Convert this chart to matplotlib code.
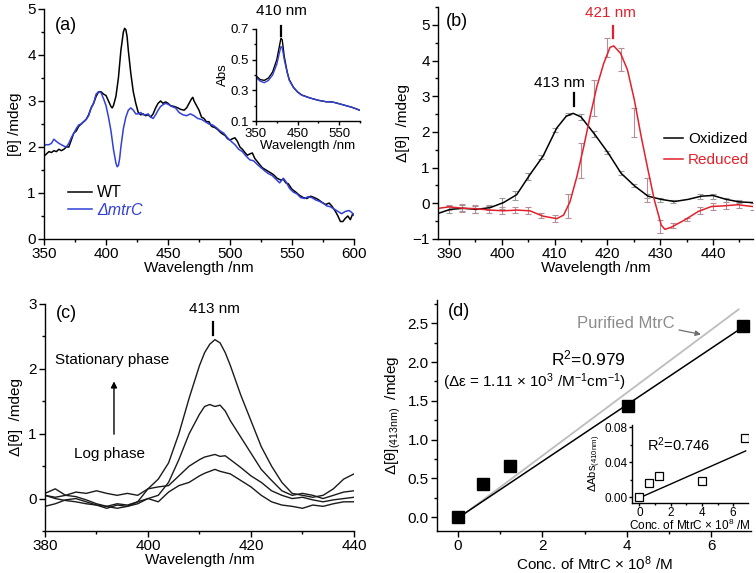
import matplotlib

matplotlib.use("Agg")
import matplotlib.pyplot as plt
from matplotlib.ticker import MultipleLocator, FormatStrFormatter

plt.rcParams["font.family"] = ["Liberation Sans", "DejaVu Sans"]
plt.rcParams["mathtext.fontset"] = "custom"
plt.rcParams["mathtext.rm"] = "Liberation Sans"
plt.rcParams["mathtext.it"] = "Liberation Sans:italic"
plt.rcParams["mathtext.default"] = "regular"
plt.rcParams["font.size"] = 11

BLUE = "#3340d8"
RED = "#e3202b"

# ---- (a) CD spectra of whole cells ----
wt_x = [350, 352, 354, 356, 358, 360, 362, 364, 366, 368, 370, 372, 374, 376, 378, 380, 382, 384, 386, 388,
        390, 392, 394, 396, 398, 400, 402, 404, 405, 406, 408, 410, 412, 414, 415, 416, 417, 418, 420, 422,
        424, 426, 428, 430, 432, 434, 436, 438, 440, 442, 444, 446, 448, 450, 452, 455, 458, 460, 463, 465,
        467, 469, 470, 471, 473, 475, 477, 479, 481, 483, 485, 488, 490, 493, 496, 498, 500, 502, 504, 506,
        508, 510, 512, 514, 516, 518, 520, 523, 526, 529, 532, 535, 538, 541, 543, 545, 547, 550, 553, 556,
        559, 562, 565, 568, 571, 574, 577, 580, 582, 585, 587, 589, 591, 593, 595, 597, 599, 600]
wt_y = [1.80, 1.85, 1.90, 1.88, 1.92, 1.90, 1.95, 1.92, 1.95, 2.00, 2.00, 2.15, 2.30, 2.35, 2.45, 2.50, 2.55,
        2.60, 2.70, 2.85, 2.95, 3.10, 3.20, 3.20, 3.15, 3.12, 3.00, 2.88, 2.85, 2.90, 3.10, 3.50, 4.10, 4.50,
        4.58, 4.55, 4.40, 4.10, 3.60, 3.20, 2.95, 2.75, 2.70, 2.72, 2.68, 2.70, 2.65, 2.72, 2.85, 2.95, 3.00,
        2.95, 2.98, 2.95, 2.90, 2.88, 2.85, 2.82, 2.80, 2.85, 2.95, 3.05, 3.08, 3.00, 2.90, 2.80, 2.65, 2.62,
        2.55, 2.55, 2.45, 2.42, 2.38, 2.30, 2.25, 2.18, 2.15, 2.18, 2.20, 2.12, 2.00, 1.95, 1.88, 1.82, 1.85,
        1.87, 1.75, 1.65, 1.55, 1.50, 1.45, 1.40, 1.32, 1.28, 1.30, 1.22, 1.20, 1.08, 1.02, 0.95, 0.90, 0.88,
        0.93, 0.90, 0.86, 0.80, 0.75, 0.78, 0.72, 0.60, 0.50, 0.38, 0.38, 0.45, 0.50, 0.42, 0.55, 0.52]
mtr_x = [350, 352, 354, 356, 358, 360, 362, 364, 366, 368, 370, 372, 374, 376, 378, 380, 382, 384, 386, 388,
         390, 392, 394, 396, 398, 400, 402, 404, 406, 408, 409, 410, 411, 412, 414, 416, 418, 420, 422, 424,
         426, 428, 430, 432, 434, 436, 438, 440, 442, 444, 446, 448, 450, 453, 456, 459, 462, 465, 468, 471,
         474, 477, 480, 483, 486, 489, 492, 495, 498, 501, 504, 507, 510, 513, 516, 519, 522, 525, 528, 531,
         534, 537, 540, 543, 545, 548, 551, 554, 557, 560, 563, 566, 569, 572, 575, 578, 581, 584, 587, 590,
         593, 596, 598, 600]
mtr_y = [2.03, 2.05, 2.05, 2.08, 2.17, 2.12, 2.08, 2.05, 2.02, 2.00, 2.08, 2.20, 2.30, 2.40, 2.48, 2.50, 2.55,
         2.60, 2.68, 2.85, 2.95, 3.15, 3.20, 3.18, 3.05, 2.90, 2.65, 2.35, 1.95, 1.65, 1.57, 1.60, 1.75, 2.00,
         2.40, 2.65, 2.80, 2.85, 2.80, 2.72, 2.72, 2.75, 2.70, 2.70, 2.72, 2.65, 2.62, 2.70, 2.80, 2.88, 2.92,
         2.95, 2.93, 2.88, 2.85, 2.75, 2.70, 2.68, 2.72, 2.68, 2.62, 2.60, 2.55, 2.50, 2.48, 2.42, 2.35, 2.30,
         2.20, 2.12, 2.05, 1.95, 1.90, 1.80, 1.72, 1.70, 1.62, 1.55, 1.48, 1.42, 1.38, 1.30, 1.22, 1.32, 1.25,
         1.10, 1.02, 0.98, 0.90, 0.88, 0.92, 0.90, 0.85, 0.82, 0.78, 0.72, 0.70, 0.65, 0.60, 0.55, 0.60, 0.62,
         0.58, 0.52]

# inset (a): absorbance
abs_x = [350, 360, 370, 380, 390, 400, 405, 410, 413, 418, 425, 430, 440, 450, 460, 480, 500, 520, 530, 540,
         560, 580, 600]
abs_wt = [0.395, 0.37, 0.365, 0.38, 0.42, 0.50, 0.57, 0.64, 0.63, 0.52, 0.42, 0.37, 0.32, 0.29, 0.27, 0.25,
          0.235, 0.225, 0.225, 0.22, 0.205, 0.19, 0.17]
abs_mtr = [0.385, 0.36, 0.35, 0.365, 0.40, 0.47, 0.53, 0.585, 0.58, 0.50, 0.415, 0.365, 0.318, 0.288, 0.268,
           0.25, 0.235, 0.225, 0.225, 0.22, 0.205, 0.19, 0.17]

# ---- (b) purified MtrC, oxidized vs reduced ----
ox_x = [388, 390.2, 392.7, 395.2, 397.8, 400.3, 402.8, 405.3, 407.8, 410.4, 412.2, 413.5, 415.0, 417.6, 420.1,
        422.6, 425.2, 427.7, 430.2, 432.7, 435.3, 437.8, 440.0, 442.5, 445.0, 447.5]
ox_y = [-0.28, -0.17, -0.14, -0.17, -0.12, 0.02, 0.24, 0.80, 1.32, 2.11, 2.44, 2.52, 2.42, 1.93, 1.42, 0.84,
        0.48, 0.20, 0.11, 0.05, 0.11, 0.20, 0.22, 0.11, 0.04, 0.02]
red_x = [388, 390, 392.7, 395, 397.8, 400.3, 402.8, 405.3, 407.8, 410.4, 411.7, 412.9, 414.2, 415.5, 416.7,
         418.0, 419.3, 420.5, 421.2, 422.5, 423.8, 425.1, 426.4, 427.7, 428.9, 430.2, 430.9, 432.1, 434.6,
         437.2, 439.7, 442.2, 444.7, 447.5]
red_y = [-0.14, -0.10, -0.14, -0.15, -0.19, -0.21, -0.19, -0.21, -0.36, -0.43, -0.33, 0.04, 0.74, 1.58, 2.42,
         3.27, 3.92, 4.37, 4.41, 4.20, 3.74, 2.90, 1.87, 0.93, 0.09, -0.61, -0.73, -0.67, -0.47, -0.23, -0.09,
         -0.07, -0.04, -0.09]
ox_err_x = [390, 392.5, 395, 397.5, 400, 402.5, 405, 407.5, 410, 412.5, 415, 417.5, 420, 422.5, 425, 427.5,
            430, 432.5, 437.5, 440, 442.5, 445]
ox_err_y = [-0.17, -0.14, -0.17, -0.12, 0.0, 0.22, 0.75, 1.30, 2.05, 2.50, 2.42, 1.95, 1.42, 0.85, 0.50, 0.20,
            0.10, 0.05, 0.18, 0.20, 0.10, 0.05]
ox_err = [0.10, 0.08, 0.10, 0.08, 0.15, 0.12, 0.10, 0.05, 0.05, 0.04, 0.08, 0.08, 0.05, 0.05, 0.05, 0.05,
          0.06, 0.05, 0.07, 0.07, 0.05, 0.05]
red_err_x = [390, 392.5, 395, 397.5, 400, 402.5, 405, 407.5, 410, 412.5, 415, 417.5, 420, 422.5, 425, 427.5,
             430, 432.5, 435, 437.5, 440, 442.5, 445, 447.5]
red_err_y = [-0.12, -0.13, -0.16, -0.18, -0.20, -0.18, -0.20, -0.35, -0.43, -0.08, 1.20, 2.95, 4.37, 4.02,
             2.27, 0.38, -0.65, -0.62, -0.45, -0.20, -0.08, -0.07, -0.04, -0.10]
red_err = [0.08, 0.10, 0.12, 0.10, 0.10, 0.08, 0.10, 0.07, 0.10, 0.33, 0.50, 0.50, 0.26, 0.32, 0.40, 0.33,
           0.18, 0.07, 0.05, 0.10, 0.10, 0.10, 0.08, 0.10]

# ---- (c) growth phase series ----
c_x = [380, 382, 384, 386, 388, 390, 392, 394, 396, 398, 400, 402, 404, 406, 408, 410, 411, 412, 413, 414,
       415, 416, 418, 420, 422, 424, 426, 428, 430, 432, 434, 436, 438, 440]
c_stat = [0.05, 0.02, 0.05, 0.03, -0.02, -0.08, -0.12, -0.08, -0.10, -0.05, 0.15, 0.30, 0.55, 1.00, 1.55,
          2.05, 2.25, 2.38, 2.45, 2.40, 2.25, 2.05, 1.60, 1.20, 0.80, 0.50, 0.25, 0.08, 0.05, 0.02, 0.05, 0.15,
          0.30, 0.38]
c_mid1 = [-0.12, -0.08, -0.02, 0.00, -0.05, -0.10, -0.15, -0.10, -0.12, -0.08, 0.00, 0.05, 0.25, 0.60, 1.00,
          1.30, 1.42, 1.45, 1.42, 1.44, 1.35, 1.20, 0.95, 0.70, 0.45, 0.28, 0.12, 0.05, 0.08, 0.05, 0.00, 0.05,
          0.10, 0.12]
c_mid2 = [0.08, 0.15, 0.05, 0.10, 0.08, 0.12, 0.08, 0.05, 0.08, 0.05, 0.15, 0.18, 0.20, 0.35, 0.50, 0.60,
          0.64, 0.66, 0.68, 0.65, 0.66, 0.60, 0.48, 0.35, 0.25, 0.12, 0.05, 0.00, 0.02, -0.02, -0.05, -0.02,
          0.00, 0.02]
c_log = [0.05, 0.00, -0.03, -0.05, -0.08, -0.10, -0.12, -0.15, -0.12, -0.05, 0.00, -0.05, 0.10, 0.20, 0.25,
         0.35, 0.39, 0.42, 0.45, 0.42, 0.40, 0.38, 0.28, 0.18, 0.05, -0.05, -0.10, -0.12, -0.15, -0.10, -0.12,
         -0.08, -0.05, -0.05]

# ---- (d) calibration ----
conc = [0, 0.6, 1.23, 4.02, 6.75]
dtheta = [0.0, 0.425, 0.653, 1.435, 2.46]
fit_x = [0, 6.72]
fit_y = [-0.01, 2.44]
pure_x = [0.05, 6.65]
pure_y = [0.0, 2.68]
dabs = [0.0, 0.0167, 0.0247, 0.0186, 0.0674]
abs_fit_x = [0, 6.8]
abs_fit_y = [-0.0005, 0.053]


def _style(ax, lw=1.0, major=4.0, minor=2.2, labelsize=11, pad=2):
    ax.spines["top"].set_visible(False)
    ax.spines["right"].set_visible(False)
    for s in ("left", "bottom"):
        ax.spines[s].set_linewidth(lw)
    ax.tick_params(which="major", direction="out", length=major, width=lw, labelsize=labelsize, pad=pad)
    ax.tick_params(which="minor", direction="out", length=minor, width=lw)


fig = plt.figure(figsize=(7.56, 5.73), dpi=100)

# (a)
ax_a = fig.add_axes([0.0582, 0.5829, 0.4101, 0.4014])
ax_a.plot(wt_x, wt_y, color="black", lw=1.1, label="WT")
ax_a.plot(mtr_x, mtr_y, color=BLUE, lw=1.1, label="ΔmtrC")
ax_a.set_xlim(350, 600)
ax_a.set_ylim(0, 5)
ax_a.xaxis.set_major_locator(MultipleLocator(50))
ax_a.xaxis.set_minor_locator(MultipleLocator(25))
ax_a.yaxis.set_major_locator(MultipleLocator(1))
ax_a.yaxis.set_minor_locator(MultipleLocator(0.5))
ax_a.set_xlabel("Wavelength /nm", labelpad=0)
ax_a.set_ylabel("[θ] /mdeg", labelpad=4)
_style(ax_a)
ax_a.text(368, 4.65, "(a)", fontsize=13, ha="center", va="center")
leg = ax_a.legend(loc="lower left", bbox_to_anchor=(0.03, 0.03), frameon=False, handlelength=1.5,
                  handletextpad=0.35, labelspacing=0.15, fontsize=11.5)
leg.get_texts()[1].set_color(BLUE)
leg.get_texts()[1].set_fontstyle("italic")

ax_ai = fig.add_axes([0.3386, 0.7888, 0.1376, 0.1606])
ax_ai.plot(abs_x, abs_wt, color="black", lw=1.0)
ax_ai.plot(abs_x, abs_mtr, color=BLUE, lw=1.0)
ax_ai.set_xlim(350, 600)
ax_ai.set_ylim(0.1, 0.7)
ax_ai.set_xticks([350, 450, 550])
ax_ai.xaxis.set_minor_locator(MultipleLocator(50))
ax_ai.set_yticks([0.1, 0.3, 0.5, 0.7])
ax_ai.yaxis.set_minor_locator(MultipleLocator(0.1))
ax_ai.set_xlabel("Wavelength /nm", fontsize=9.5, labelpad=0)
ax_ai.set_ylabel("Abs", fontsize=9.5, labelpad=1)
_style(ax_ai, major=3, minor=1.6, labelsize=9.5)
ax_ai.text(410, 0.82, "410 nm", fontsize=11, ha="center", va="center", clip_on=False)
ax_ai.plot([410, 410], [0.655, 0.72], color="black", lw=1.6, clip_on=False)

# (b)
ax_b = fig.add_axes([0.5794, 0.5829, 0.4167, 0.4049])
ax_b.errorbar(ox_err_x, ox_err_y, yerr=ox_err, fmt="none", ecolor="#9a9a9a", elinewidth=0.8, capsize=2,
              capthick=0.8)
ax_b.errorbar(red_err_x, red_err_y, yerr=red_err, fmt="none", ecolor="#b48f98", elinewidth=0.8, capsize=2,
              capthick=0.8)
ax_b.plot(ox_x, ox_y, color="black", lw=1.1, label="Oxidized")
ax_b.plot(red_x, red_y, color=RED, lw=1.1, label="Reduced")
ax_b.set_xlim(387.9, 447.6)
ax_b.set_ylim(-1, 5.5)
ax_b.xaxis.set_major_locator(MultipleLocator(10))
ax_b.xaxis.set_minor_locator(MultipleLocator(5))
ax_b.yaxis.set_major_locator(MultipleLocator(1))
ax_b.yaxis.set_minor_locator(MultipleLocator(0.5))
ax_b.set_xlabel("Wavelength /nm", labelpad=0)
ax_b.set_ylabel("Δ[θ]  /mdeg", labelpad=2)
_style(ax_b)
ax_b.text(391.5, 5.08, "(b)", fontsize=13, ha="center", va="center")
ax_b.text(411.0, 3.37, "413 nm", fontsize=11, ha="center", va="center")
ax_b.plot([413.6, 413.6], [2.72, 3.09], color="black", lw=1.6)
ax_b.text(420.6, 5.33, "421 nm", fontsize=11, ha="center", va="center", color=RED)
ax_b.plot([421, 421], [4.64, 4.96], color=RED, lw=1.6)
leg = ax_b.legend(loc="center left", bbox_to_anchor=(0.675, 0.385), frameon=False, handlelength=1.2,
                  handletextpad=0.35, labelspacing=0.45, fontsize=11)
leg.get_texts()[1].set_color(RED)

# (c)
ax_c = fig.add_axes([0.0595, 0.0733, 0.4087, 0.3962])
for series in (c_stat, c_mid1, c_mid2, c_log):
    ax_c.plot(c_x, series, color="#1a1a1a", lw=1.0)
ax_c.set_xlim(380, 440)
ax_c.set_ylim(-0.5, 3)
ax_c.xaxis.set_major_locator(MultipleLocator(20))
ax_c.xaxis.set_minor_locator(MultipleLocator(10))
ax_c.yaxis.set_major_locator(MultipleLocator(1))
ax_c.yaxis.set_minor_locator(MultipleLocator(0.5))
ax_c.set_xlabel("Wavelength /nm", labelpad=0)
ax_c.set_ylabel("Δ[θ]  /mdeg", labelpad=4)
_style(ax_c)
ax_c.text(384.2, 2.86, "(c)", fontsize=13, ha="center", va="center")
ax_c.text(413.0, 2.92, "413 nm", fontsize=11, ha="center", va="center")
ax_c.plot([412.7, 412.7], [2.52, 2.72], color="black", lw=1.6)
ax_c.text(393.0, 2.14, "Stationary phase", fontsize=11, ha="center", va="center")
ax_c.text(392.6, 0.68, "Log phase", fontsize=11, ha="center", va="center")
ax_c.annotate("", xy=(393.4, 1.85), xytext=(393.4, 0.95),
              arrowprops=dict(arrowstyle="-|>", color="black", lw=1.0, mutation_scale=9))

# (d)
ax_d = fig.add_axes([0.578, 0.0733, 0.4153, 0.4031])
ax_d.plot(pure_x, pure_y, color="#bdbdbd", lw=1.3)
ax_d.plot(fit_x, fit_y, color="black", lw=1.1)
ax_d.plot(conc, dtheta, "s", color="black", ms=8)
ax_d.set_xlim(-0.5, 6.94)
ax_d.set_ylim(-0.18, 2.8)
ax_d.xaxis.set_major_locator(MultipleLocator(2))
ax_d.xaxis.set_minor_locator(MultipleLocator(1))
ax_d.yaxis.set_major_locator(MultipleLocator(0.5))
ax_d.yaxis.set_minor_locator(MultipleLocator(0.25))
ax_d.yaxis.set_major_formatter(FormatStrFormatter("%.1f"))
ax_d.set_xlabel("Conc. of MtrC $\\times$ 10$^8$ /M", labelpad=1)
ax_d.set_ylabel("Δ[θ]$_{(413nm)}$  /mdeg", labelpad=3)
_style(ax_d)
ax_d.text(0.02, 2.65, "(d)", fontsize=13, ha="center", va="center")
ax_d.text(3.98, 2.04, "R$^2$=0.979", fontsize=12.5, ha="right", va="center")
ax_d.text(3.98, 1.74, "(Δε = 1.11 $\\times$ 10$^3$ /M$^{-1}$cm$^{-1}$)", fontsize=11, ha="right", va="center")
ax_d.text(2.82, 2.5, "Purified MtrC", fontsize=12, color="#8c8c8c", ha="left", va="center")
ax_d.annotate("", xy=(5.82, 2.35), xytext=(5.17, 2.42),
              arrowprops=dict(arrowstyle="-|>", color="#6f6f6f", lw=0.9, mutation_scale=8))

ax_di = fig.add_axes([0.836, 0.1227, 0.1534, 0.1356])
ax_di.plot(abs_fit_x, abs_fit_y, color="black", lw=1.0)
ax_di.plot(conc, dabs, "s", mfc="white", mec="black", mew=0.9, ms=5.5)
ax_di.set_xlim(-0.47, 6.95)
ax_di.set_ylim(-0.006, 0.0826)
ax_di.set_xticks([0, 2, 4, 6])
ax_di.xaxis.set_minor_locator(MultipleLocator(1))
ax_di.set_yticks([0.0, 0.04, 0.08])
ax_di.yaxis.set_minor_locator(MultipleLocator(0.02))
ax_di.yaxis.set_major_formatter(FormatStrFormatter("%.2f"))
ax_di.set_xlabel("Conc. of MtrC $\\times$ 10$^8$ /M", fontsize=8.5, labelpad=-1)
ax_di.set_ylabel("ΔAbs$_{(410nm)}$", fontsize=8, labelpad=1)
_style(ax_di, major=2.5, minor=1.4, labelsize=8.5, pad=0.5)
ax_di.text(0.49, 0.0598, "R$^2$=0.746", fontsize=10.5, ha="left", va="center")

fig.savefig("out.png", dpi=100)
